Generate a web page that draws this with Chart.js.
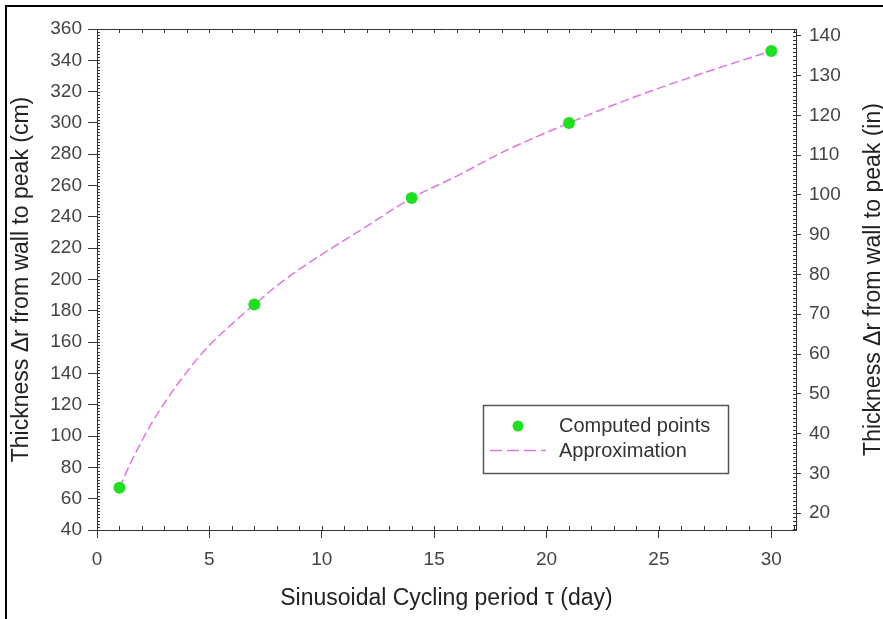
<!DOCTYPE html>
<html>
<head>
<meta charset="utf-8">
<script src="https://cdn.jsdelivr.net/npm/chart.js"></script>
<style>
  body { margin: 0; background: #fff; }
  #wrap { width: 883px; height: 619px; position: relative; }
</style>
</head>
<body>
<div id="wrap"><canvas id="myChart" width="883" height="619"></canvas></div>
<script>
// computed points (day, cm)
const periodDays = [1, 7, 14, 21, 30];
const thicknessCm = [67, 184, 252, 300, 346];

// approximation curve
const approxDays = [1, 1.5, 2, 2.5, 3, 3.5, 4, 4.5, 5, 5.5, 6, 6.5, 7, 8, 9, 10, 12, 14, 16, 18, 21, 24, 27, 30];
const approxCm = [67, 83, 97, 110, 121, 131.5, 141, 150, 158, 165, 171.5, 178, 184, 196, 206.5, 216, 234, 252, 266, 281, 300, 317, 332, 346];

// tick labels
const xTicks = [0, 5, 10, 15, 20, 25, 30];
const cmTicks = [40, 60, 80, 100, 120, 140, 160, 180, 200, 220, 240, 260, 280, 300, 320, 340, 360];
const inTicks = [20, 30, 40, 50, 60, 70, 80, 90, 100, 110, 120, 130, 140];

const FONT = "Arial, 'Liberation Sans', sans-serif";
const AXIS = "#333";
const GREEN = "#1fe01f";
const PINK = "#df74e4";

// small inward ticks, box top line, legend, right title, page frame
const extras = {
  id: "extras",
  beforeDraw(chart) {
    const ctx = chart.ctx;
    ctx.save();
    ctx.strokeStyle = "#000";
    ctx.lineWidth = 2;
    ctx.beginPath();
    ctx.moveTo(6, 619);
    ctx.lineTo(6, 6);
    ctx.lineTo(883, 6);
    ctx.stroke();
    ctx.restore();
  },
  afterDraw(chart) {
    const ctx = chart.ctx;
    const a = chart.chartArea;
    const sx = chart.scales.x, sy = chart.scales.y, sy2 = chart.scales.y2;
    ctx.save();
    ctx.strokeStyle = AXIS;
    ctx.lineWidth = 1;
    ctx.beginPath();
    // top line of the box
    ctx.moveTo(a.left, a.top + 0.5);
    ctx.lineTo(a.right, a.top + 0.5);
    // x minor ticks, bottom and top
    for (let v = 1; v <= 31; v++) {
      const px = Math.round(sx.getPixelForValue(v)) + 0.5;
      if (px > a.right) break;
      ctx.moveTo(px, a.bottom);
      ctx.lineTo(px, a.bottom - 4);
      ctx.moveTo(px, a.top);
      ctx.lineTo(px, a.top + 4);
    }
    // left minor ticks every 2 cm
    for (let v = 40; v <= 360; v += 2) {
      const py = Math.round(sy.getPixelForValue(v)) + 0.5;
      ctx.moveTo(a.left, py);
      ctx.lineTo(a.left + 3, py);
    }
    // right minor ticks every 1 in
    for (let v = 16; v <= 141; v += 1) {
      const py = Math.round(sy2.getPixelForValue(v)) + 0.5;
      ctx.moveTo(a.right, py);
      ctx.lineTo(a.right - 3, py);
    }
    ctx.stroke();

    // legend
    ctx.strokeStyle = "#555";
    ctx.lineWidth = 1.5;
    ctx.strokeRect(483.5, 405.5, 245, 68);
    ctx.fillStyle = GREEN;
    ctx.beginPath();
    ctx.arc(518, 426, 5.5, 0, Math.PI * 2);
    ctx.fill();
    ctx.strokeStyle = PINK;
    ctx.lineWidth = 1.5;
    ctx.setLineDash([12, 5]);
    ctx.beginPath();
    ctx.moveTo(490, 450.5);
    ctx.lineTo(546, 450.5);
    ctx.stroke();
    ctx.setLineDash([]);
    ctx.fillStyle = "#333";
    ctx.font = "20px " + FONT;
    ctx.textBaseline = "middle";
    ctx.textAlign = "left";
    ctx.fillText("Computed points", 559, 426);
    ctx.fillText("Approximation", 559, 451);

    // right axis title, reading upward
    ctx.translate(874, (a.top + a.bottom) / 2);
    ctx.rotate(-Math.PI / 2);
    ctx.font = "23px " + FONT;
    ctx.textAlign = "center";
    ctx.fillStyle = "#222";
    ctx.fillText("Thickness \u0394r from wall to peak (in)", 0, 0);
    ctx.restore();
  }
};

const tickFont = { family: FONT, size: 19 };

new Chart(document.getElementById("myChart"), {
  type: "scatter",
  data: {
    datasets: [
      {
        label: "Computed points",
        data: periodDays.map((d, i) => ({ x: d, y: thicknessCm[i] })),
        pointRadius: 6,
        pointHoverRadius: 6,
        pointBackgroundColor: GREEN,
        pointBorderWidth: 0,
        showLine: false,
        yAxisID: "y",
      },
      {
        label: "Approximation",
        data: approxDays.map((d, i) => ({ x: d, y: approxCm[i] })),
        showLine: true,
        borderColor: PINK,
        borderWidth: 1.5,
        borderDash: [9, 4],
        pointRadius: 0,
        cubicInterpolationMode: "monotone",
        yAxisID: "y",
      },
    ],
  },
  options: {
    responsive: false,
    animation: false,
    layout: { padding: { top: 29, left: 0, right: 0, bottom: 0 } },
    plugins: { legend: { display: false }, tooltip: { enabled: false } },
    scales: {
      x: {
        type: "linear",
        position: "bottom",
        min: 0,
        max: 31.1,
        afterBuildTicks: (s) => { s.ticks = xTicks.map((v) => ({ value: v })); },
        afterFit: (s) => { s.height = 89; },
        ticks: { font: tickFont, color: "#444", padding: 10, maxRotation: 0 },
        grid: { drawOnChartArea: false, tickLength: 8, tickColor: AXIS },
        border: { color: AXIS, width: 1 },
        title: {
          display: true,
          text: "Sinusoidal Cycling period \u03c4 (day)",
          color: "#222",
          font: { family: FONT, size: 23, lineHeight: 1 },
          padding: { top: 0, bottom: 9 },
        },
      },
      y: {
        type: "linear",
        position: "left",
        min: 40,
        max: 360,
        afterBuildTicks: (s) => { s.ticks = cmTicks.map((v) => ({ value: v })); },
        afterFit: (s) => { s.width = 97; },
        ticks: { font: tickFont, color: "#444", padding: 6 },
        grid: { drawOnChartArea: false, tickLength: 9, tickColor: AXIS },
        border: { color: AXIS, width: 1 },
        title: {
          display: true,
          text: "Thickness \u0394r from wall to peak (cm)",
          color: "#222",
          font: { family: FONT, size: 23, lineHeight: 1 },
          padding: { top: 10, bottom: 0 },
        },
      },
      y2: {
        type: "linear",
        position: "right",
        min: 40 / 2.54,
        max: 360 / 2.54,
        afterBuildTicks: (s) => { s.ticks = inTicks.map((v) => ({ value: v })); },
        afterFit: (s) => { s.width = 87; },
        ticks: { font: tickFont, color: "#444", padding: 8 },
        grid: { drawOnChartArea: false, tickLength: 5, tickColor: AXIS },
        border: { color: AXIS, width: 1 },
      },
    },
  },
  plugins: [extras],
});
</script>
</body>
</html>
